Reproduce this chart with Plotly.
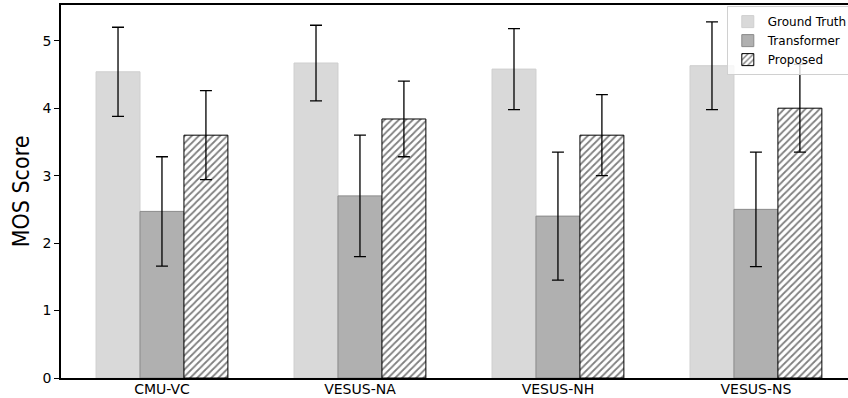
import plotly.graph_objects as go

datasets = ["CMU-VC", "VESUS-NA", "VESUS-NH", "VESUS-NS"]
x_pos = [0, 1, 2, 3]

gt_mean = [4.54, 4.67, 4.58, 4.63]
gt_err = [0.66, 0.56, 0.60, 0.65]
tr_mean = [2.47, 2.70, 2.40, 2.50]
tr_err = [0.81, 0.90, 0.95, 0.85]
prop_mean = [3.60, 3.84, 3.60, 4.00]
prop_err = [0.66, 0.56, 0.60, 0.65]

def err(vals):
    return dict(type="data", array=vals, visible=True, color="black", thickness=1.3, width=6)

fig = go.Figure()
fig.add_trace(go.Bar(
    x=x_pos, y=gt_mean, name="Ground Truth", error_y=err(gt_err),
    marker=dict(color="#d9d9d9", line=dict(color="#cfcfcf", width=1)),
))
fig.add_trace(go.Bar(
    x=x_pos, y=tr_mean, name="Transformer", error_y=err(tr_err),
    marker=dict(color="#b0b0b0", line=dict(color="#8a8a8a", width=1)),
))
fig.add_trace(go.Bar(
    x=x_pos, y=prop_mean, name="Proposed", error_y=err(prop_err),
    marker=dict(color="white", line=dict(color="black", width=1),
                pattern=dict(shape="/", fgcolor="black", bgcolor="white", size=5, solidity=0.35)),
))

fig.update_layout(
    width=848, height=398,
    margin=dict(l=61, r=0, t=5, b=20, autoexpand=False),
    plot_bgcolor="white", paper_bgcolor="white",
    barmode="group", bargap=0.334, bargroupgap=0,
    font=dict(family="DejaVu Sans", size=13, color="black"),
    legend=dict(x=0.846, y=0.997, xanchor="left", yanchor="top",
                bgcolor="rgba(255,255,255,0.8)", bordercolor="#d0d0d0", borderwidth=1,
                font=dict(size=12), tracegroupgap=0, itemwidth=30),
)
fig.update_xaxes(
    range=[-0.51, 3.465], tickvals=x_pos, ticktext=datasets, automargin=False,
    showline=True, linecolor="black", linewidth=1.5, mirror=True,
    ticks="", showgrid=False, zeroline=False, tickfont=dict(size=14),
    ticklabelstandoff=-3,
)
fig.update_yaxes(
    range=[0, 5.53], tickvals=[0, 1, 2, 3, 4, 5], automargin=False,
    showline=True, linecolor="black", linewidth=1.5,
    ticks="outside", ticklen=5, tickcolor="black", showgrid=False, zeroline=False,
    tickfont=dict(size=14),
    title=dict(text="MOS Score", font=dict(family="DejaVu Sans Condensed", size=23), standoff=6),
)

# drop the default 8px page margin so the figure sits at the window's corner
fig.write_html("out.html", config={"displayModeBar": False},
               post_script="document.body.style.margin='0';")
